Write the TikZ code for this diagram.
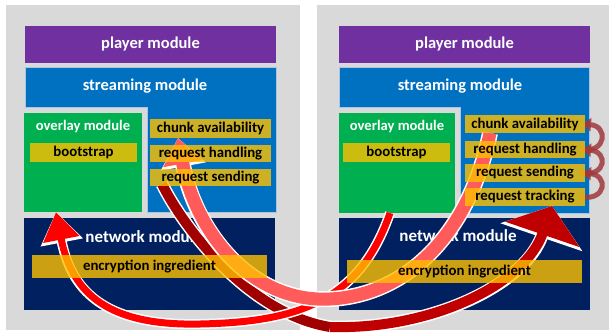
\documentclass[tikz,border=0pt]{standalone}
\usepackage{fontspec}
\setmainfont{Carlito}
\usetikzlibrary{arrows.meta,positioning}
\pgfdeclarelayer{back}
\pgfdeclarelayer{mid}
\pgfsetlayers{back,mid,main}
\definecolor{panelgray}{HTML}{D9D9D9}
\definecolor{playerpurple}{HTML}{7030A0}
\definecolor{streamblue}{HTML}{0070C0}
\definecolor{streamedge}{HTML}{A9C4E4}
\definecolor{overlaygreen}{HTML}{00B050}
\definecolor{netnavy}{HTML}{002060}
\definecolor{partgold}{HTML}{FFC000}
\definecolor{hopred}{HTML}{FF0000}
\definecolor{chunkred}{HTML}{FF5B5B}
\definecolor{askred}{HTML}{A00000}
\definecolor{askredtip}{HTML}{C00000}
\definecolor{loopred}{HTML}{A0393C}
\tikzset{
  box/.style={anchor=north west, inner sep=0pt, outer sep=0pt},
  module/.style={box, text=white, font=\bfseries\fontsize{16.5}{16.5}\selectfont},
  title/.style={text=white, inner sep=0pt, font=\bfseries\fontsize{#1}{#1}\selectfont},
  part/.style={box, fill=partgold, fill opacity=0.8, text opacity=1,
    font=\bfseries\fontsize{14.8}{14.8}\selectfont},
  rim/.style={draw=white, line width=#1},
  loopy/.style={loopred, opacity=0.85, line width=5pt, -{Triangle[length=9pt,width=13pt]}},
}
\begin{document}
\begin{tikzpicture}[x=1pt,y=-1pt]
    \useasboundingbox (0,0) rectangle (609,335);

    \begin{pgfonlayer}{back}
        \fill[white] (0,0) rectangle (609,335);
        % Grey peers
        \fill[panelgray] (6,5) rectangle (300,330);
        \fill[panelgray] (317,5) rectangle (609,330);

        % Left peer: modules
        \node[module, fill=playerpurple, minimum width=251pt, minimum height=37pt] (playL) at (25,26) {player module};
        \draw[streamedge, line width=0.8pt, fill=streamblue] (25,67) -- (276,67) -- (276,212) -- (147,212) -- (147,107) -- (25,107) -- cycle;
        \node[title=16.5] (streamL) at (145,86) {streaming module};
        \node[module, fill=overlaygreen, minimum width=118pt, minimum height=99pt] (ovlL) at (24,113) {};
        \node[title=14.6] (ovlTL) at (83,127) {overlay module};
        \node[module, fill=netnavy, minimum width=251pt, minimum height=92pt] (netL) at (24,218) {};
        \node[title=17] (netTL) at (144,237) {network module};

        % Right peer: modules
        \node[module, fill=playerpurple, minimum width=251pt, minimum height=37pt] (playR) at (339,26) {player module};
        \draw[streamedge, line width=0.8pt, fill=streamblue] (339,67) -- (589,67) -- (589,213) -- (460,213) -- (460,107) -- (339,107) -- cycle;
        \node[title=16.5] (streamR) at (460,86) {streaming module};
        \node[module, fill=overlaygreen, minimum width=116pt, minimum height=100pt] (ovlR) at (339,113) {};
        \node[title=14.6] (ovlTR) at (397,127) {overlay module};
        \node[module, fill=netnavy, minimum width=251pt, minimum height=92pt] (netR) at (339,218) {};
        \node[title=17] (netTR) at (458,236) {network module};
    \end{pgfonlayer}

    % Left peer: parts
    \node[part, minimum width=107pt, minimum height=19pt] (bootL) at (30,143) {bootstrap};
    \node[part, minimum width=121pt, minimum height=19pt] (chunkL) at (150,119) {chunk availability};
    \node[part, minimum width=121pt, minimum height=17pt] (handL) at (150,145) {request handling};
    \node[part, minimum width=121pt, minimum height=17pt] (sendL) at (150,169) {request sending};
    \node[part, minimum width=235pt, minimum height=23pt] (cryptL) at (32,255) {encryption ingredient};

    % Right peer: parts
    \node[part, minimum width=107pt, minimum height=19pt] (bootR) at (343,143) {bootstrap};
    \node[part, minimum width=120pt, minimum height=18pt] (chunkR) at (465,115) {chunk availability};
    \node[part, minimum width=120pt, minimum height=17pt] (handR) at (465,141) {request handling};
    \node[part, minimum width=120pt, minimum height=18pt] (sendR) at (465,164) {request sending};
    \node[part, minimum width=120pt, minimum height=18pt] (trackR) at (465,188) {request tracking};
    \node[part, minimum width=235pt, minimum height=23pt] (cryptR) at (347,260) {encryption ingredient};

    \coordinate (askLow) at (330,327);

    \begin{pgfonlayer}{mid}
        % Request sending -> request tracking
        \draw[rim=13pt, -{Triangle[length=33pt,width=85pt]}] ([xshift=12pt,yshift=2pt]sendL.south west) .. controls (185,230) and (250,314) .. (askLow) .. controls (430,330) and (525,285) .. ([xshift=87pt]trackR.south west);
        \draw[askred, line width=10pt] ([xshift=12pt,yshift=2pt]sendL.south west) .. controls (185,230) and (250,314) .. (askLow);
        \draw[askredtip, line width=10pt, -{Triangle[length=30pt,width=77pt]}] (askLow) .. controls (430,330) and (525,285) .. ([xshift=87pt]trackR.south west);

        % Overlay -> overlay
        \draw[hopred, line width=7pt, preaction={rim=10pt, -{Triangle[length=31pt,width=41pt]}}, -{Triangle[length=28pt,width=35pt]}]
            ([xshift=51pt]ovlR.south west) .. controls (360,300) and (300,322) .. (200,324) .. controls (110,326) and (72,295) .. ([xshift=32pt]ovlL.south west);

        % Chunk availability -> chunk availability
        \draw[chunkred, line width=13pt, preaction={rim=16pt, -{Triangle[length=29pt,width=44pt]}}, -{Triangle[length=26pt,width=38pt]}]
            ([xshift=25pt]chunkR.south west) .. controls (470,230) and (410,295) .. (330,299) .. controls (250,303) and (195,230) .. ([xshift=28pt]chunkL.south west);

        % Tracking loops
        \draw[loopy] ([xshift=-4pt]trackR.east) .. controls +(26,4) and +(26,2) .. ([xshift=-3pt]sendR.east);
        \draw[loopy] ([xshift=-4pt]sendR.east) .. controls +(26,4) and +(26,2) .. ([xshift=-3pt]handR.east);
        \draw[loopy] ([xshift=-4pt]handR.east) .. controls +(26,4) and +(26,2) .. ([xshift=-3pt]chunkR.east);
    \end{pgfonlayer}
\end{tikzpicture}
\end{document}
